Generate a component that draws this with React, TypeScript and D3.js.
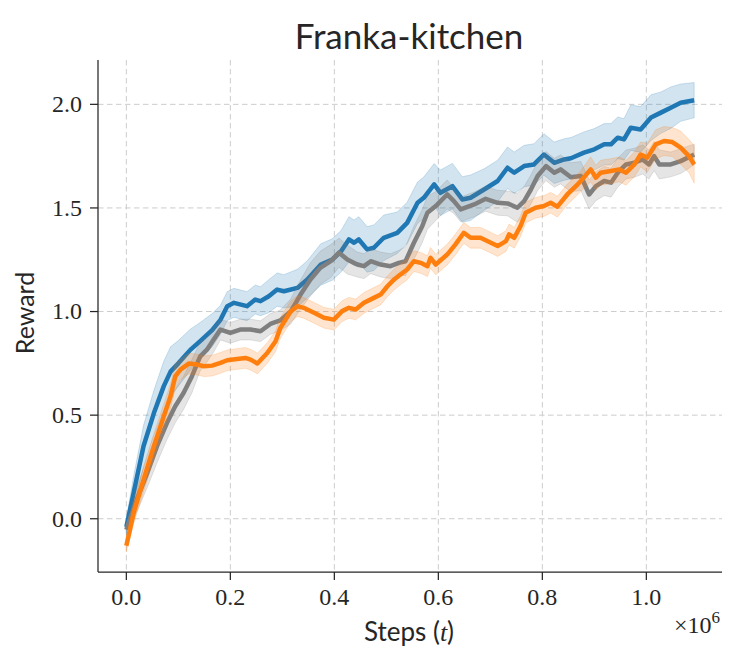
// App.tsx
import React, { useRef, useEffect } from "react";
import * as d3 from "d3";

// [steps (x1e6), mean reward, half band width]
type Pt = [number, number, number];

const blueRun: Pt[] = [
  [0, -0.04, 0.04], [0.014, 0.125, 0.08], [0.033, 0.35, 0.1], [0.053, 0.51, 0.11],
  [0.072, 0.64, 0.12], [0.085, 0.71, 0.12], [0.1, 0.75, 0.11], [0.123, 0.815, 0.1],
  [0.142, 0.857, 0.09], [0.165, 0.91, 0.08], [0.181, 0.96, 0.07], [0.194, 1.026, 0.07],
  [0.207, 1.042, 0.07], [0.232, 1.026, 0.07], [0.248, 1.058, 0.07], [0.258, 1.05, 0.07],
  [0.274, 1.074, 0.08], [0.29, 1.106, 0.08], [0.303, 1.098, 0.08], [0.329, 1.114, 0.09],
  [0.348, 1.155, 0.09], [0.374, 1.227, 0.1], [0.396, 1.251, 0.1], [0.413, 1.291, 0.1],
  [0.428, 1.348, 0.11], [0.438, 1.332, 0.11], [0.447, 1.348, 0.11], [0.463, 1.3, 0.11],
  [0.476, 1.308, 0.11], [0.495, 1.356, 0.11], [0.521, 1.38, 0.1], [0.54, 1.428, 0.1],
  [0.56, 1.525, 0.1], [0.572, 1.549, 0.1], [0.592, 1.614, 0.1], [0.604, 1.573, 0.11],
  [0.627, 1.605, 0.11], [0.646, 1.541, 0.11], [0.662, 1.549, 0.11], [0.688, 1.589, 0.1],
  [0.714, 1.63, 0.1], [0.733, 1.694, 0.1], [0.746, 1.67, 0.1], [0.765, 1.702, 0.1],
  [0.784, 1.71, 0.1], [0.803, 1.758, 0.1], [0.823, 1.718, 0.1], [0.842, 1.734, 0.1],
  [0.855, 1.74, 0.1], [0.88, 1.767, 0.1], [0.9, 1.783, 0.1], [0.919, 1.807, 0.1],
  [0.932, 1.807, 0.1], [0.945, 1.839, 0.1], [0.957, 1.831, 0.1], [0.97, 1.887, 0.11],
  [0.989, 1.879, 0.11], [1.009, 1.936, 0.11], [1.028, 1.96, 0.1], [1.047, 1.984, 0.1],
  [1.066, 2.008, 0.09], [1.092, 2.02, 0.085],
];

const greyRun: Pt[] = [
  [0, -0.053, 0.03], [0.02, 0.092, 0.06], [0.04, 0.22, 0.07], [0.059, 0.35, 0.08],
  [0.078, 0.462, 0.08], [0.094, 0.543, 0.08], [0.11, 0.607, 0.08], [0.126, 0.687, 0.08],
  [0.142, 0.784, 0.07], [0.155, 0.816, 0.06], [0.168, 0.865, 0.06], [0.181, 0.913, 0.05],
  [0.2, 0.897, 0.05], [0.219, 0.913, 0.05], [0.239, 0.913, 0.05], [0.258, 0.905, 0.05],
  [0.277, 0.94, 0.05], [0.296, 0.957, 0.05], [0.316, 1.0, 0.06], [0.335, 1.082, 0.07],
  [0.354, 1.155, 0.08], [0.373, 1.211, 0.08], [0.393, 1.243, 0.08], [0.409, 1.284, 0.07],
  [0.425, 1.251, 0.07], [0.444, 1.227, 0.06], [0.457, 1.219, 0.06], [0.47, 1.243, 0.06],
  [0.489, 1.227, 0.06], [0.508, 1.219, 0.06], [0.524, 1.235, 0.06], [0.537, 1.243, 0.07],
  [0.553, 1.332, 0.08], [0.569, 1.412, 0.08], [0.579, 1.477, 0.08], [0.595, 1.509, 0.07],
  [0.617, 1.565, 0.07], [0.63, 1.533, 0.06], [0.643, 1.493, 0.06], [0.669, 1.517, 0.06],
  [0.691, 1.544, 0.06], [0.714, 1.525, 0.06], [0.733, 1.522, 0.06], [0.752, 1.501, 0.07],
  [0.765, 1.533, 0.07], [0.778, 1.589, 0.07], [0.791, 1.654, 0.07], [0.807, 1.702, 0.07],
  [0.823, 1.67, 0.07], [0.835, 1.686, 0.07], [0.855, 1.648, 0.07], [0.874, 1.654, 0.07],
  [0.89, 1.565, 0.07], [0.903, 1.605, 0.07], [0.919, 1.63, 0.07], [0.932, 1.622, 0.07],
  [0.945, 1.67, 0.07], [0.961, 1.71, 0.07], [0.977, 1.718, 0.07], [0.993, 1.734, 0.07],
  [1.005, 1.71, 0.07], [1.015, 1.75, 0.07], [1.025, 1.71, 0.07], [1.047, 1.71, 0.06],
  [1.066, 1.726, 0.06], [1.092, 1.758, 0.05],
];

const orangeRun: Pt[] = [
  [0, -0.13, 0.03], [0.014, 0.027, 0.05], [0.033, 0.188, 0.06], [0.053, 0.35, 0.06],
  [0.072, 0.494, 0.06], [0.085, 0.591, 0.06], [0.094, 0.687, 0.06], [0.104, 0.72, 0.05],
  [0.12, 0.749, 0.05], [0.136, 0.744, 0.05], [0.149, 0.736, 0.05], [0.165, 0.739, 0.05],
  [0.181, 0.752, 0.05], [0.194, 0.765, 0.05], [0.213, 0.771, 0.05], [0.229, 0.776, 0.05],
  [0.239, 0.768, 0.05], [0.252, 0.749, 0.05], [0.271, 0.8, 0.05], [0.287, 0.857, 0.05],
  [0.296, 0.92, 0.05], [0.316, 1.0, 0.05], [0.329, 1.026, 0.05], [0.341, 1.018, 0.05],
  [0.361, 0.994, 0.05], [0.38, 0.97, 0.05], [0.399, 0.961, 0.05], [0.415, 1.002, 0.05],
  [0.428, 1.018, 0.05], [0.441, 1.01, 0.05], [0.457, 1.042, 0.05], [0.476, 1.066, 0.05],
  [0.489, 1.082, 0.05], [0.502, 1.122, 0.05], [0.515, 1.155, 0.05], [0.527, 1.179, 0.05],
  [0.54, 1.203, 0.05], [0.553, 1.243, 0.05], [0.566, 1.235, 0.05], [0.579, 1.219, 0.05],
  [0.585, 1.259, 0.05], [0.595, 1.227, 0.05], [0.617, 1.275, 0.05], [0.633, 1.324, 0.05],
  [0.649, 1.38, 0.05], [0.662, 1.356, 0.05], [0.681, 1.356, 0.05], [0.701, 1.332, 0.05],
  [0.714, 1.316, 0.05], [0.73, 1.34, 0.05], [0.736, 1.372, 0.05], [0.746, 1.356, 0.05],
  [0.758, 1.412, 0.05], [0.768, 1.477, 0.05], [0.787, 1.501, 0.05], [0.803, 1.509, 0.05],
  [0.816, 1.525, 0.05], [0.829, 1.506, 0.05], [0.848, 1.565, 0.05], [0.868, 1.614, 0.05],
  [0.874, 1.63, 0.05], [0.893, 1.686, 0.06], [0.903, 1.646, 0.06], [0.912, 1.67, 0.06],
  [0.932, 1.678, 0.06], [0.948, 1.686, 0.06], [0.961, 1.67, 0.06], [0.977, 1.71, 0.06],
  [0.989, 1.758, 0.06], [1.002, 1.743, 0.07], [1.018, 1.807, 0.07], [1.034, 1.823, 0.07],
  [1.05, 1.818, 0.07], [1.066, 1.791, 0.08], [1.082, 1.75, 0.08], [1.092, 1.71, 0.09],
];

const xTicks = [0, 0.2, 0.4, 0.6, 0.8, 1.0];
const yTicks = [0, 0.5, 1.0, 1.5, 2.0];

// drawing order: blue, grey, orange on top
const runs: { data: Pt[]; color: string }[] = [
  { data: blueRun, color: "#1f77b4" },
  { data: greyRun, color: "#7f7f7f" },
  { data: orangeRun, color: "#ff7f0e" },
];

const W = 729;
const H = 649;
const serif = "'Liberation Serif', 'DejaVu Serif', serif";
const sans = "Lato, 'Open Sans', sans-serif";

const App: React.FC = () => {
  const ref = useRef<SVGSVGElement | null>(null);

  useEffect(() => {
    if (!ref.current) return;
    const svg = d3.select(ref.current);
    svg.selectAll("*").remove();

    const left = 98, right = 722, top = 60, bottom = 572;
    const x = d3.scaleLinear().domain([-0.0545, 1.1455]).range([left, right]);
    const y = d3.scaleLinear().domain([-0.257, 2.214]).range([bottom, top]);
    const ink = "#262626";

    // grid
    const grid = svg.append("g")
      .attr("stroke", "#cccccc")
      .attr("stroke-width", 1)
      .attr("stroke-dasharray", "5.5,3.5");
    grid.selectAll("line.gx").data(xTicks).join("line")
      .attr("x1", d => x(d)).attr("x2", d => x(d))
      .attr("y1", top).attr("y2", bottom);
    grid.selectAll("line.gy").data(yTicks).join("line")
      .attr("class", "gy")
      .attr("x1", left).attr("x2", right)
      .attr("y1", d => y(d)).attr("y2", d => y(d));

    const band = d3.area<Pt>()
      .x(d => x(d[0]))
      .y0(d => y(d[1] - d[2]))
      .y1(d => y(d[1] + d[2]));
    const line = d3.line<Pt>()
      .x(d => x(d[0]))
      .y(d => y(d[1]));

    runs.forEach(r => {
      svg.append("path")
        .attr("d", band(r.data))
        .attr("fill", r.color)
        .attr("fill-opacity", 0.2)
        .attr("stroke", r.color)
        .attr("stroke-opacity", 0.2)
        .attr("stroke-width", 1);
      svg.append("path")
        .attr("d", line(r.data))
        .attr("fill", "none")
        .attr("stroke", r.color)
        .attr("stroke-width", 4.5)
        .attr("stroke-linejoin", "round")
        .attr("stroke-linecap", "butt");
    });

    // spines
    svg.append("line")
      .attr("x1", left).attr("x2", left).attr("y1", top).attr("y2", bottom)
      .attr("stroke", ink).attr("stroke-width", 1.25);
    svg.append("line")
      .attr("x1", left).attr("x2", right).attr("y1", bottom).attr("y2", bottom)
      .attr("stroke", ink).attr("stroke-width", 1.25);

    // x ticks
    const xt = svg.append("g");
    xt.selectAll("line").data(xTicks).join("line")
      .attr("x1", d => x(d)).attr("x2", d => x(d))
      .attr("y1", bottom).attr("y2", bottom + 8)
      .attr("stroke", ink).attr("stroke-width", 1.25);
    xt.selectAll("text").data(xTicks).join("text")
      .attr("x", d => x(d)).attr("y", bottom + 33)
      .attr("text-anchor", "middle")
      .attr("font-family", serif).attr("font-size", 24)
      .attr("fill", ink)
      .text(d => d3.format(".1f")(d));

    // y ticks
    const yt = svg.append("g");
    yt.selectAll("line").data(yTicks).join("line")
      .attr("x1", left - 8).attr("x2", left)
      .attr("y1", d => y(d)).attr("y2", d => y(d))
      .attr("stroke", ink).attr("stroke-width", 1.25);
    yt.selectAll("text").data(yTicks).join("text")
      .attr("x", left - 16).attr("y", d => y(d))
      .attr("dy", "0.33em")
      .attr("text-anchor", "end")
      .attr("font-family", serif).attr("font-size", 24)
      .attr("fill", ink)
      .text(d => d3.format(".1f")(d));

    // offset text
    const off = svg.append("text")
      .attr("x", 720).attr("y", 633)
      .attr("text-anchor", "end")
      .attr("font-family", serif).attr("font-size", 24)
      .attr("fill", ink);
    off.append("tspan").text("×10");
    off.append("tspan").attr("dy", -10).attr("font-size", 17).text("6");

    // title
    svg.append("text")
      .attr("x", 409).attr("y", 49)
      .attr("text-anchor", "middle")
      .attr("font-family", sans).attr("font-size", 35)
      .attr("fill", ink)
      .text("Franka-kitchen");

    // axis labels
    const xl = svg.append("text")
      .attr("x", 409).attr("y", 641)
      .attr("text-anchor", "middle")
      .attr("font-family", sans).attr("font-size", 26)
      .attr("fill", ink);
    xl.append("tspan").text("Steps (");
    xl.append("tspan").attr("font-family", serif).attr("font-style", "italic").text("t");
    xl.append("tspan").text(")");

    svg.append("text")
      .attr("transform", `translate(34, 313) rotate(-90)`)
      .attr("text-anchor", "middle")
      .attr("font-family", sans).attr("font-size", 25)
      .attr("fill", ink)
      .text("Reward");
  }, []);

  return (
    <svg
      ref={ref}
      width={W}
      height={H}
      style={{ position: "absolute", left: 0, top: 0, background: "#fff" }}
    />
  );
};

export default App;
